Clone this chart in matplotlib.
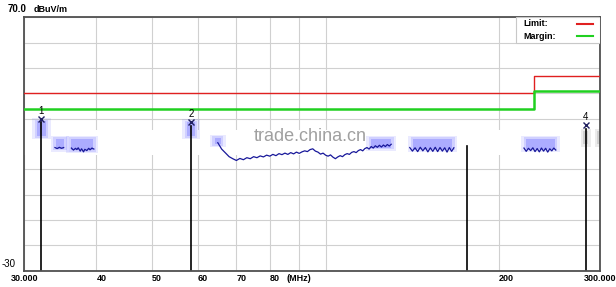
import matplotlib
matplotlib.use('Agg')
import matplotlib.pyplot as plt
from matplotlib.patches import Rectangle

plt.rcParams['font.family'] = ['Liberation Sans', 'DejaVu Sans']

# limit / margin lines (dBuV/m), step at 230 MHz
limit_freq = [30, 230, 230, 300]
limit_level = [40, 40, 47, 47]
margin_level = [34, 34, 41, 41]

# visible pieces of the measured trace
seg_a_freq = [65, 66, 67, 68, 69, 70, 71, 72, 73, 74, 75, 76, 77, 78, 79, 80, 81, 82,
              83, 84, 85, 86, 87, 88, 89, 90, 91, 92, 93, 94, 95, 96, 97, 98, 99, 100,
              101, 102, 103, 104, 105, 106, 107, 108, 109, 110, 111, 112, 113, 114,
              115, 116, 117, 118, 119, 120, 121, 122, 123, 124, 125, 126, 127, 128,
              129, 130]
seg_a_level = [20.5, 18.0, 16.5, 15.0, 14.2, 13.5, 14.3, 13.8, 14.6, 14.2, 15.0, 14.6,
               15.3, 14.9, 15.6, 15.2, 15.9, 15.4, 16.2, 15.8, 16.4, 15.9, 16.6, 16.1,
               16.8, 16.3, 16.9, 17.3, 17.0, 17.8, 18.1, 17.2, 16.8, 16.0, 16.4, 15.6,
               15.2, 15.7, 14.8, 14.2, 14.9, 15.4, 15.0, 15.8, 16.2, 15.9, 16.7, 17.0,
               16.6, 17.4, 17.8, 17.3, 18.2, 18.6, 18.0, 19.0, 18.4, 19.3, 18.7, 19.5,
               18.8, 19.6, 19.0, 19.8, 19.2, 19.9]
seg_b_freq = [33.9, 34.2, 34.5, 34.8, 35.1]
seg_b_level = [18.6, 18.2, 18.7, 18.3, 18.6]
seg_c_freq = [36.2, 36.5, 36.8, 37.0, 37.2, 37.5, 37.7, 38.0, 38.2, 38.5, 38.8, 39.0,
              39.3, 39.6]
seg_c_level = [18.4, 17.6, 18.3, 17.8, 18.5, 17.2, 18.1, 16.9, 17.9, 17.4, 18.3, 17.7,
               18.4, 18.0]
seg_d_freq = [140, 141.5, 143, 144.5, 146, 147.5, 149, 150.5, 152, 153.5, 155, 156.5,
              158, 159.5, 161, 162.5, 164, 165.5, 167]
seg_d_level = [18.6, 17.2, 18.5, 17.0, 18.7, 17.3, 18.6, 16.9, 18.5, 17.1, 18.7, 17.0,
               18.6, 17.2, 18.5, 16.8, 18.6, 17.1, 18.5]
seg_e_freq = [221, 223, 225, 227, 229, 231, 233, 235, 237, 239, 241, 243, 245, 247,
              249, 251]
seg_e_level = [18.4, 17.1, 18.3, 17.4, 18.5, 17.0, 18.2, 16.9, 18.4, 17.2, 18.3, 16.8,
               18.1, 17.3, 18.4, 17.6]

# blurred patches (freq start, freq end, low dB, high dB)
blob_f0 = [31.6, 34.0, 36.2, 57.5, 64.2, 120, 142, 223]
blob_f1 = [32.7, 35.2, 39.5, 59.3, 65.8, 130, 166, 250]
blob_lo = [23.0, 18.2, 17.5, 23.0, 20.0, 18.5, 18.2, 18.2]
blob_hi = [29.0, 22.0, 22.0, 28.5, 22.5, 22.0, 22.0, 22.0]
grey_f0 = [280, 296.5]
grey_f1 = [286, 300]

# markers
mark_freq = [32.1, 58.4, 176, 283]
mark_level = [30.0, 28.5, 20.8, 27.5]
mark_label = ['1', '2', '', '4']

tick_vals = [30, 40, 50, 60, 70, 80, 90, 100, 200, 300]
tick_text = ['30.000', '40', '50', '60', '70', '80', '(MHz)', '', '200', '300.000']
tick_ha = ['center', 'left', 'left', 'left', 'left', 'left', 'center', 'left', 'left', 'center']

fig = plt.figure(figsize=(6.16, 2.87), dpi=100)
ax = fig.add_axes([0.0396, 0.0568, 0.9351, 0.8829])
ax.set_xscale('log')
ax.set_xlim(30, 300)
ax.set_ylim(-30, 70)
ax.set_xticks(tick_vals)
ax.set_xticks([], minor=True)
ax.set_yticks(range(-30, 71, 10))
ax.tick_params(length=0, labelbottom=False, labelleft=False)
ax.grid(True, color='#d0d0d0', lw=0.8, zorder=0)
ax.set_axisbelow(True)
for s in ax.spines.values():
    s.set_color('#505050')
    s.set_linewidth(1.3)

# erased band through the middle of the plot
ax.axhspan(15.8, 25.5, color='white', lw=0, zorder=1)

ax.plot(limit_freq, limit_level, color='#e02020', lw=1.0, zorder=3)
ax.plot(limit_freq, margin_level, color='#20d020', lw=1.8, zorder=3)

# soft patches: a few stacked fills, each a bit wider than the one inside it
for f0, f1, lo, hi in zip(blob_f0, blob_f1, blob_lo, blob_hi):
    for grow, a in [(1.02, 0.12), (1.01, 0.18), (1.0, 0.3)]:
        pad = (grow - 1) * 60
        ax.fill_between([f0 / grow, f1 * grow], lo - pad, hi + pad,
                        color='#5a5aff', alpha=a, lw=0, zorder=2)
for f0, f1 in zip(grey_f0, grey_f1):
    for grow, a in [(1.01, 0.2), (1.0, 0.35)]:
        pad = (grow - 1) * 100
        ax.fill_between([f0 / grow, min(f1 * grow, 300)], 20 - pad, 25 + pad,
                        color='#a0a0a0', alpha=a, lw=0, zorder=2)

for fq, lv in [(seg_a_freq, seg_a_level), (seg_b_freq, seg_b_level),
               (seg_c_freq, seg_c_level), (seg_d_freq, seg_d_level),
               (seg_e_freq, seg_e_level)]:
    ax.plot(fq, lv, color='#18189a', lw=0.9, zorder=4)

for f, lv, lab in zip(mark_freq, mark_level, mark_label):
    ax.plot([f, f], [-30, lv - 1.5], color='black', lw=1.2, zorder=2.5)
    if lab:
        ax.plot(f, lv, marker='x', ms=4, mew=1.0, color='#202060', zorder=5)
        ax.text(f, lv + 1.2, lab, fontsize=7, ha='center', va='bottom', zorder=5)

ax.text(0.496, 0.53, 'trade.china.cn', transform=ax.transAxes, fontsize=13,
        color='#a0a0a0', ha='center', va='center', zorder=6)

# legend box
ax.add_patch(Rectangle((0.853, 0.9), 0.147, 0.1, transform=ax.transAxes,
                       facecolor='white', edgecolor='#c8c8c8', lw=0.8, zorder=5))
ax.text(0.866, 0.975, 'Limit:', transform=ax.transAxes, fontsize=6.5,
        fontweight='bold', va='center', zorder=6)
ax.text(0.866, 0.925, 'Margin:', transform=ax.transAxes, fontsize=6.5,
        fontweight='bold', va='center', zorder=6)
ax.plot([0.96, 0.987], [0.975, 0.975], transform=ax.transAxes, color='#e02020', lw=1.5, zorder=6)
ax.plot([0.96, 0.987], [0.925, 0.925], transform=ax.transAxes, color='#20d020', lw=1.5, zorder=6)

xf = ax.get_xaxis_transform()
for v, t, ha in zip(tick_vals, tick_text, tick_ha):
    ax.text(v, -0.029, t, transform=xf, fontsize=6.5, fontweight='bold',
            ha=ha, va='center')

fig.text(0.012, 0.968, '70.0', fontsize=7, fontweight='bold', va='center')
fig.text(0.054, 0.968, 'dBuV/m', fontsize=6.5, fontweight='bold', va='center')
fig.text(0.003, 0.08, '-30', fontsize=7, va='center')

fig.savefig('out.png', dpi=100)
